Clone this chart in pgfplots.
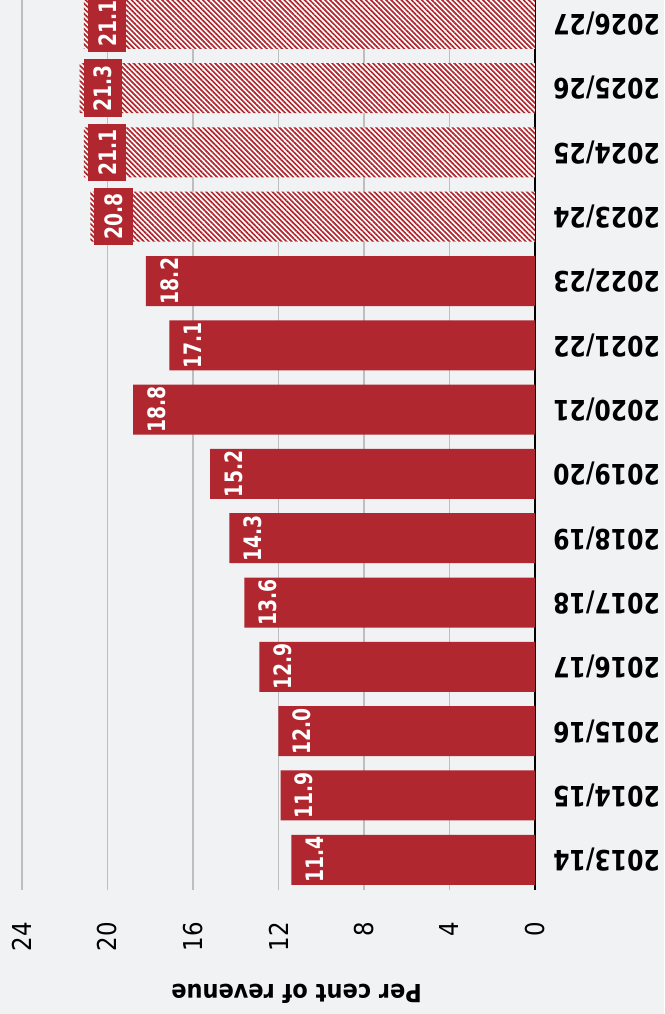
\documentclass[border=0pt]{standalone}
\usepackage{pgfplots}
\pgfplotsset{compat=1.18}
\usepackage{fontspec}
\setmainfont{DejaVu Sans}[FakeStretch=0.9]
\newfontfamily\catfont{DejaVu Sans}[FakeStretch=0.84]
\newfontfamily\valfont{DejaVu Sans}[FakeStretch=0.78]
\newfontfamily\tickfont{DejaVu Sans}[FakeStretch=0.88]
\usetikzlibrary{patterns.meta}
\definecolor{barred}{RGB}{176,39,47}
\definecolor{bg}{RGB}{241,242,244}
\definecolor{gridgray}{RGB}{190,190,190}
\begin{document}
\begin{tikzpicture}
\fill[bg, use as bounding box] (-22pt,-124pt) rectangle (642pt,890pt);
\begin{axis}[
  scale only axis, width=513pt, height=890pt,
  at={(0pt,0pt)}, anchor=south west,
  xbar, bar shift=0pt, bar width=50pt,
  x dir=reverse,
  xmin=0, xmax=24,
  ymin=-0.47, ymax=13.37,
  /pgf/number format/assume math mode=true,
  axis line style={draw=none},
  major tick length=0pt,
  xtick={4,8,12,16,20,24},
  extra x ticks={0},
  extra x tick style={grid style={black, line width=2pt}},
  xmajorgrids,
  grid style={gridgray, line width=1.8pt},
  xticklabel style={rotate=90, anchor=east, font=\tickfont\fontsize{26}{26}\selectfont, inner sep=0pt, text=black},
  xticklabel shift=32pt,
  ytick={0,...,13},
  yticklabels={2013/14,2014/15,2015/16,2016/17,2017/18,2018/19,2019/20,2020/21,2021/22,2022/23,2023/24,2024/25,2025/26,2026/27},
  yticklabel pos=right,
  yticklabel style={rotate=180, anchor=east, font=\catfont\bfseries\fontsize{28}{28}\selectfont, inner sep=0pt, text=black},
  yticklabel shift=18pt,
  point meta=x,
  nodes near coords={\pgfmathprintnumber[fixed,fixed zerofill,precision=1,assume math mode=true]{\pgfplotspointmeta}},
  every node near coord/.append style={rotate=90, anchor=north, font=\valfont\bfseries\fontsize{24}{24}\selectfont, text=white, inner xsep=5.5pt, inner ysep=10.3pt, outer sep=0pt, outer ysep=4pt},
  clip=false,
]
\addplot[draw=none, fill=barred] coordinates {
(11.4,0) (11.9,1) (12.0,2) (12.9,3) (13.6,4) (14.3,5) (15.2,6) (18.8,7) (17.1,8) (18.2,9)
};
\addplot[draw=none, fill=white, postaction={pattern={Lines[angle=-45,distance=3.6pt,line width=1.7pt]}, pattern color=barred},
  every node near coord/.append style={fill=barred}] coordinates {
(20.8,10) (21.1,11) (21.3,12) (21.1,13)
};
\end{axis}
\node[rotate=180, font=\bfseries\fontsize{25}{25}\selectfont, inner sep=0pt] at (274.5pt,-104pt) {Per cent of revenue};
\end{tikzpicture}
\end{document}
